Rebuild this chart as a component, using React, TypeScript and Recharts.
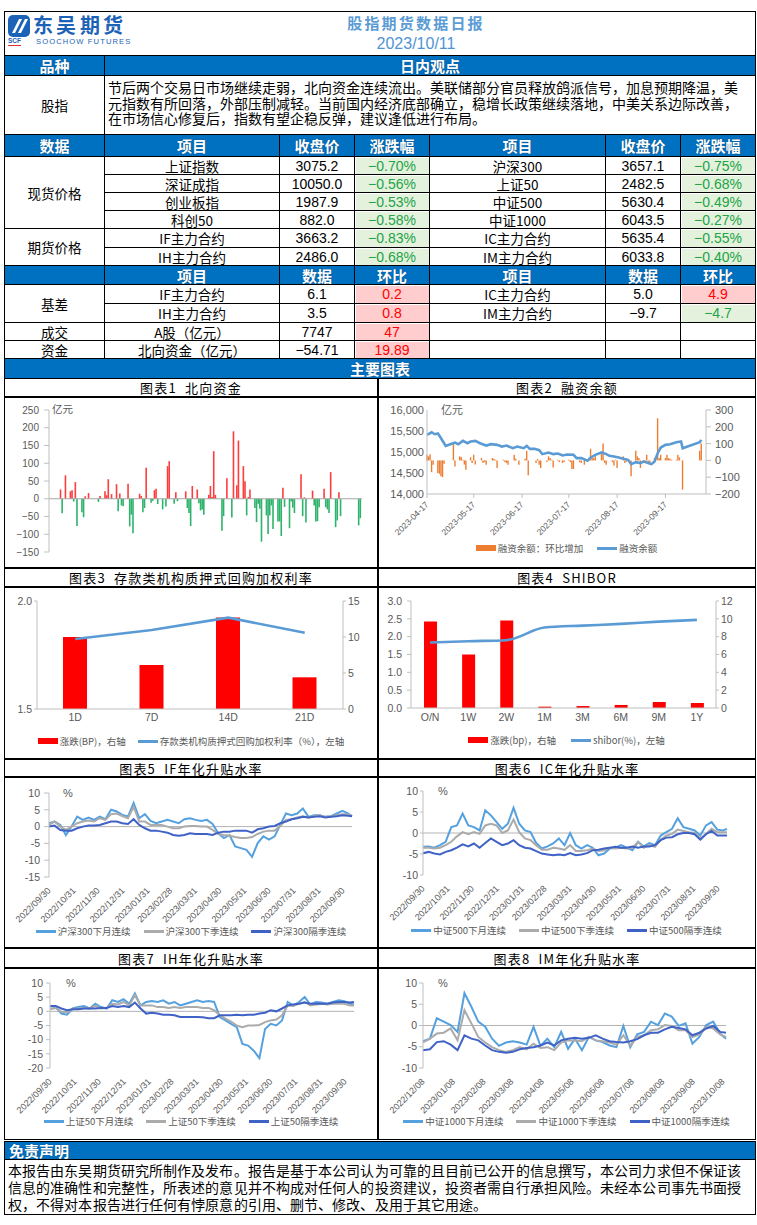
import React from "react";
import { ComposedChart, Line, Bar, Cell, XAxis, YAxis, ReferenceLine, Legend } from "recharts";

// fonts & colours
const CN = '"Noto Sans CJK SC", "Noto Sans", sans-serif';
const CN_TIGHT = '"CJK Tight", "Noto Sans CJK SC", sans-serif';
const NUM = '"Liberation Sans Narrow", "Liberation Sans", sans-serif';
const AX = '"Liberation Sans", "Noto Sans CJK SC", sans-serif';
const HEAD_BLUE = "#0070C0";
const AX_TEXT = "#595959";
const AX_LINE = "#BFBFBF";
const C_LIGHT = "#55A0DE";
const C_GRAY = "#ABABAB";
const C_DARK = "#3F62C6";

// same CJK face with smaller ascent/descent so tightly set paragraphs don't collide
const fontCss = `
@font-face {
  font-family: "CJK Tight"; font-weight: 400;
  src: local("Noto Sans CJK SC"), local("NotoSansCJKsc-Regular"), local("Noto Sans CJK SC Regular");
  ascent-override: 94%; descent-override: 12%; line-gap-override: 0%;
}
@font-face {
  font-family: "CJK Tight"; font-weight: 700;
  src: local("Noto Sans CJK SC Bold"), local("NotoSansCJKsc-Bold");
  ascent-override: 94%; descent-override: 12%; line-gap-override: 0%;
}`;

// ---------- table data ----------
const viewText = [
  "节后两个交易日市场继续走弱，北向资金连续流出。美联储部分官员释放鸽派信号，加息预期降温，美",
  "元指数有所回落，外部压制减轻。当前国内经济底部确立，稳增长政策继续落地，中美关系边际改善，",
  "在市场信心修复后，指数有望企稳反弹，建议逢低进行布局。",
];
const head1 = ["数据", "项目", "收盘价", "涨跌幅", "项目", "收盘价", "涨跌幅"];
const head2 = ["", "项目", "数据", "环比", "项目", "数据", "环比"];
const spotLeft = [
  ["上证指数", "3075.2", "-0.70%"],
  ["深证成指", "10050.0", "-0.56%"],
  ["创业板指", "1987.9", "-0.53%"],
  ["科创50", "882.0", "-0.58%"],
];
const spotRight = [
  ["沪深300", "3657.1", "-0.75%"],
  ["上证50", "2482.5", "-0.68%"],
  ["中证500", "5630.4", "-0.49%"],
  ["中证1000", "6043.5", "-0.27%"],
];
const futLeft = [
  ["IF主力合约", "3663.2", "-0.83%"],
  ["IH主力合约", "2486.0", "-0.68%"],
];
const futRight = [
  ["IC主力合约", "5635.4", "-0.55%"],
  ["IM主力合约", "6033.8", "-0.40%"],
];
const basisLeft = [
  ["IF主力合约", "6.1", "0.2"],
  ["IH主力合约", "3.5", "0.8"],
];
const basisRight = [
  ["IC主力合约", "5.0", "4.9"],
  ["IM主力合约", "-9.7", "-4.7"],
];
const turnoverRow = ["A股（亿元）", "7747", "47"];
const northRow = ["北向资金（亿元）", "-54.71", "19.89"];

// ---------- chart 1: northbound flow ----------
const FLOW_START = "2023-04-04";
const flowTicks = ["2023-04-04", "2023-05-04", "2023-06-04", "2023-07-04", "2023-08-04", "2023-09-04", "2023-10-04"];
const flowDates = [
  "2023-04-11","2023-04-12","2023-04-14","2023-04-17","2023-04-18","2023-04-19","2023-04-20","2023-04-21","2023-04-24","2023-04-25","2023-04-26","2023-04-28",
  "2023-05-04","2023-05-05","2023-05-08","2023-05-09","2023-05-10","2023-05-12","2023-05-15","2023-05-16","2023-05-17","2023-05-18","2023-05-19","2023-05-22","2023-05-23","2023-05-24","2023-05-25","2023-05-29","2023-05-30","2023-05-31",
  "2023-06-01","2023-06-02","2023-06-05","2023-06-06","2023-06-07","2023-06-08","2023-06-09","2023-06-12","2023-06-14","2023-06-15","2023-06-16","2023-06-19","2023-06-20","2023-06-21","2023-06-26","2023-06-27","2023-06-28","2023-06-29","2023-06-30",
  "2023-07-03","2023-07-04","2023-07-05","2023-07-06","2023-07-07","2023-07-10","2023-07-11","2023-07-12","2023-07-13","2023-07-14","2023-07-18","2023-07-19","2023-07-21","2023-07-24","2023-07-25","2023-07-27","2023-07-28","2023-07-31",
  "2023-08-01","2023-08-02","2023-08-03","2023-08-04","2023-08-07","2023-08-08","2023-08-09","2023-08-10","2023-08-11","2023-08-14","2023-08-15","2023-08-16","2023-08-17","2023-08-18","2023-08-21","2023-08-22","2023-08-23","2023-08-24","2023-08-25","2023-08-28","2023-08-29","2023-08-30","2023-08-31",
  "2023-09-04","2023-09-05","2023-09-06","2023-09-07","2023-09-11","2023-09-12","2023-09-13","2023-09-14","2023-09-15","2023-09-18","2023-09-19","2023-09-20","2023-09-21","2023-09-22","2023-09-25","2023-09-26","2023-09-27","2023-09-28",
  "2023-10-09","2023-10-10",
];
const flowValues = [
  26, -41, 66, 21, 24, -8, 47, -77, -38, -52, 7, 16,
  -9, 8, 21, 10, 55, 13, 41, -35, 15, -19, -21, 42, -78, -45, -97, 14, 8, -38,
  -26, 87, -11, -6, 24, 28, -15, -30, -22, 92, 106, -14, 18, -7, 21, -26, -40, -77, 36,
  26, -13, -33, -30, -45, 11, 36, 5, 134, 11, -90, -49, 58, -53, 190, 38, 164, 92,
  49, -47, 5, 26, -26, -66, -14, -28, -121, -47, -99, -47, -19, -85, -64, -64, -105, 31, -23, -83, -8, -25, -40,
  69, -49, 4, -67, 23, -19, -64, -63, -24, 28, -24, -30, -40, 75, -80, -61, 18, -49,
  -75, -54.71,
];

// ---------- chart 2: margin balance (days since 2023-04-17) ----------
const MARGIN_START = "2023-04-17";
const marginTicks = ["2023-04-17", "2023-05-17", "2023-06-17", "2023-07-17", "2023-08-17", "2023-09-17"];
const balanceDays = [0,3,5,7,9,12,15,18,20,23,26,28,31,34,38,41,45,48,51,55,58,62,64,66,69,72,74,78,81,84,87,90,94,96,99,103,105,108,112,115,117,120,123,126,129,131,134,137,139,141,144,146,148,150,153,156,160,163,164,175,176];
const balanceValues = [15407,15470,15423,15439,15328,15146,15186,15225,15186,15265,15209,15249,15265,15209,15154,15186,15170,15130,15154,15091,15130,15091,15146,15075,15075,15043,14949,14988,14949,14964,14917,14941,14933,14854,14854,14791,14870,14933,14988,14949,14909,14893,14870,14838,14814,14711,14759,14735,14775,14751,14711,14775,14972,15107,15170,15186,15233,15249,15091,15233,15289];
const changeDays = [0,1,2,3,4,7,8,9,10,11,17,18,21,22,23,24,25,28,29,30,31,35,36,37,38,42,43,44,45,49,50,51,52,56,57,59,63,64,65,70,71,72,73,77,78,79,80,81,84,85,87,88,91,92,93,94,98,99,101,105,106,107,108,112,113,114,115,119,120,121,122,126,127,128,131,134,135,136,137,140,141,142,143,146,148,149,150,153,154,155,156,157,160,161,162,164,175,176];
const changeValues = [34,24,37,-70,-26,-75,-80,-95,-100,-20,103,-36,24,20,4,-25,-55,18,-15,34,-25,14,-15,-10,-26,14,10,4,-45,4,-10,-15,-26,34,10,-26,10,57,-89,-15,8,-26,-45,-10,24,14,4,-42,4,-10,-15,-10,4,-10,-51,-51,-10,-15,-26,69,14,14,24,37,100,-15,-26,-10,-30,4,-45,24,-15,-8,-95,57,24,14,-45,-10,34,-10,-26,14,251,14,34,14,34,14,10,4,4,34,18,-174,57,100];

// ---------- chart 3: repo ----------
const repoTerms = ["1D", "7D", "14D", "21D"];
const repoRate = [1.824, 1.866, 1.923, 1.853];
const repoChange = [10.0, 6.1, 12.7, 4.4];

// ---------- chart 4: shibor ----------
const shiborTerms = ["O/N", "1W", "2W", "1M", "3M", "6M", "9M", "1Y"];
const shiborRate = [1.836, 1.873, 1.901, 2.255, 2.31, 2.358, 2.423, 2.47];
const shiborChange = [9.7, 6.0, 9.8, 0.15, 0.22, 0.34, 0.67, 0.56];

// ---------- charts 5-7: weekly samples ----------
const seasonDates = [
  "2022-09-30","2022-10-07","2022-10-14","2022-10-21","2022-10-28","2022-11-04","2022-11-11","2022-11-18","2022-11-25","2022-12-02","2022-12-09","2022-12-16","2022-12-23","2022-12-30",
  "2023-01-06","2023-01-13","2023-01-20","2023-01-27","2023-02-03","2023-02-10","2023-02-17","2023-02-24","2023-03-03","2023-03-10","2023-03-17","2023-03-24","2023-03-31",
  "2023-04-07","2023-04-14","2023-04-21","2023-04-28","2023-05-05","2023-05-12","2023-05-19","2023-05-26","2023-06-02","2023-06-09","2023-06-16","2023-06-23","2023-06-30",
  "2023-07-07","2023-07-14","2023-07-21","2023-07-28","2023-08-04","2023-08-11","2023-08-18","2023-08-25","2023-09-01","2023-09-08","2023-09-15","2023-09-22","2023-09-29","2023-10-06","2023-10-11",
];
const monthEnds = ["2022/09/30","2022/10/31","2022/11/30","2022/12/31","2023/01/31","2023/02/28","2023/03/31","2023/04/30","2023/05/31","2023/06/30","2023/07/31","2023/08/31","2023/09/30"];

const ifNextMonth = [1,1.5,0.5,-2.5,0,3,2,2.7,2,3,2.2,5,4.5,3.5,3,7,2.5,3.7,1.7,1,1.5,2,1.5,1,2.2,2.5,2,1.7,2,0.8,-2,-3.4,-2.5,-5.9,-6.4,-6.9,-9,-4.9,-2.9,-3.9,-2.9,0.5,3.9,3.4,3.9,5.4,2.9,3.4,3.4,2.9,3.1,3.9,4.7,3.9,3.1];
const ifNextQuarter = [0.5,1.5,0,-1,0,1,1.5,1.8,1.5,2.5,2,3.7,3.9,3.1,2.5,5.9,1.5,1.5,0.5,0.5,0.5,0,-0.5,-0.5,0,0.2,0.2,0,0,-1,-2.2,-2.5,-2.7,-3.1,-3.4,-3.4,-3.1,-2.2,-1.5,-1.2,-1.2,0.2,2,2.2,2.7,3.1,2.7,3.1,3.4,2.9,3.1,3.4,3.7,3.6,3.2];
const ifFarQuarter = [0,0.3,-1,-1.2,-1.2,-0.5,0,0.3,0.3,0.5,1,1.5,1.5,1,0.8,2.2,0.5,-0.5,-1.2,-1.2,-1.5,-1.8,-2.5,-2.7,-2.5,-2,-2.2,-2.2,-2.2,-2.5,-1.8,-1.5,-1.5,-1.2,-1.2,-1.2,-1.8,-0.8,-0.5,0,0.2,1,1.5,2.2,2.5,2.9,2.7,2.9,3.1,2.7,2.9,3.1,3.4,3.2,3.1];

const icNextMonth = [-3.3,-3.2,-3.5,-2.9,-2.1,1.4,1.8,4.6,1.8,1.4,0.6,5.4,4.2,2.6,1,2.2,6,2.2,0.6,0.2,-2.4,-3.7,-3.2,-2.5,-1.3,-2.9,0,-2.9,-3.7,-2.9,-3.5,-5.3,-4.9,-3.7,-3.5,-2.9,-3.5,-4.1,-2.1,-3.2,-2.4,-2.9,-0.6,0.2,1,3.5,1.4,1,0.6,-0.6,1.8,2.6,0.8,0.6,1];
const icNextQuarter = [-3.5,-3.5,-3.7,-3.5,-2.9,-2.1,-0.8,0.2,-0.3,0.2,-0.2,1.8,2.2,1.8,0,0.6,3.2,0.2,-1.3,-1.7,-2.9,-4,-4,-3.5,-3.7,-4,-2.9,-4.3,-4.3,-4.1,-3.7,-4.3,-4.1,-3.5,-3.7,-3.5,-3.7,-3.5,-2.1,-3.5,-2.9,-3.3,-1.6,-0.6,-0.2,0.8,0.5,0.2,0,-1.3,-0.2,1,0.2,0.2,0.2];
const icFarQuarter = [-4.8,-4.5,-4.9,-5.1,-4.5,-4.1,-3.5,-2.7,-3.2,-2.5,-3.5,-2.4,-1.3,-2.1,-2.9,-2.5,-1.7,-2.9,-3.5,-3.7,-4.3,-4.9,-5.1,-5.3,-5.1,-5.3,-4.8,-5.3,-5.1,-4.8,-4.1,-4,-3.7,-3.5,-3.3,-3.5,-3.5,-3.2,-3.5,-3.2,-3.2,-2.9,-1.7,-1.1,-1,-0.3,0,0,-0.3,-1.6,-0.3,0.5,-0.6,-0.6,-0.6];

const ihNextMonth = [1.8,1.5,-0.8,-1.2,1,1.5,1.9,1,2.7,1.5,1,3.9,3.3,4.3,2.7,6.3,2.1,3.3,3.6,3.3,3.9,2.7,3.3,2.1,2.7,3.3,3.9,3.3,3.6,3.3,-2,-3.2,-4.4,-5.6,-11.5,-12.1,-13.9,-16.5,-6.2,-4.4,-5,-3.2,3.3,2.1,3.3,5.1,2.4,3.3,3.1,2.7,3.3,3.9,3.6,2.7,2.4];
const ihNextQuarter = [0.7,1.2,-0.2,-0.2,0.7,1,1.2,1,1.9,1,1.2,2.7,2.4,3.3,2.1,5.7,2.1,2.1,2.1,1.5,1.5,1.2,1.5,1.2,1.5,1.5,1.5,1.2,1.2,0.4,-1.4,-2.6,-3.6,-5,-5.6,-5,-5,-4.8,-3.8,-3.2,-2.9,-1.4,2.1,1.9,2.7,3.3,2.1,2.4,2.7,2.4,2.7,2.7,2.7,2.1,2.1];
const ihFarQuarter = [1.9,1.9,1,0.4,0.7,0.7,1,1,1,1.2,1.2,1.9,1.5,1.9,1.5,3.1,1,-0.8,-0.5,-0.8,-1.2,-1.2,-1.4,-2,-2,-2,-2,-2.1,-2.4,-2.4,-1.4,-1.4,-1.4,-1.2,-1.4,-1.2,-1.2,-0.8,-0.5,0.4,0,1,2.1,2.4,2.7,3.1,2.7,2.7,2.7,2.7,3.1,3.3,3.3,3.1,3.3];

// ---------- chart 8 ----------
const imDates = [
  "2022-12-08","2022-12-15","2022-12-22","2022-12-29","2023-01-05","2023-01-12","2023-01-19","2023-01-26","2023-02-02","2023-02-09","2023-02-16","2023-02-23",
  "2023-03-02","2023-03-09","2023-03-16","2023-03-23","2023-03-30","2023-04-06","2023-04-13","2023-04-20","2023-04-27","2023-05-04","2023-05-11","2023-05-18","2023-05-25",
  "2023-06-01","2023-06-08","2023-06-15","2023-06-22","2023-06-29","2023-07-06","2023-07-13","2023-07-20","2023-07-27","2023-08-03","2023-08-10","2023-08-17","2023-08-24","2023-08-31",
  "2023-09-07","2023-09-14","2023-09-21","2023-09-28","2023-10-05","2023-10-11",
];
const imTickDates = ["2022/12/08","2023/01/08","2023/02/08","2023/03/08","2023/04/08","2023/05/08","2023/06/08","2023/07/08","2023/08/08","2023/09/08","2023/10/08"];
const imNextMonth = [-3.7,-3.1,1.7,0.9,0.1,-1.5,7.6,4.4,0.9,-0.3,-3.1,-4.8,-4,-3.7,-4,-4.5,-0.3,-4.8,-3.1,-5.1,-1.5,-5.5,-3.1,-5.8,-2.7,-3.5,-3.9,-4.7,-5.1,-0.1,-5.1,-2.1,-1.5,0.9,0.1,2.8,2.1,-0.1,0.5,-4.3,-2.7,0.1,0.9,-1.9,-3.1];
const imNextQuarter = [-4,-3.1,-1.9,-1.7,-0.7,-3.5,3.6,0.5,-2.7,-4,-5.1,-5.8,-6.2,-5.8,-5.1,-5.6,-4.3,-5.3,-5.1,-5.8,-4,-3.5,-3.5,-3.7,-2.7,-3.5,-3.7,-4,-4.5,-2.3,-4.7,-2.7,-2.3,-1.1,-0.9,0.1,-0.1,-1.1,-1.1,-2.7,-2.1,-0.3,-0.7,-2.1,-2.7];
const imFarQuarter = [-5.8,-5.6,-3.9,-3.7,-4.5,-5.8,-2.3,-3.1,-3.5,-4.7,-5.8,-6.2,-6.4,-6.2,-5.6,-5.3,-5.1,-4.7,-4,-4.7,-3.5,-3.1,-2.9,-3.1,-2.9,-2.3,-3.1,-3.7,-3.9,-4,-3.7,-3.2,-2.3,-1.7,-1.7,-0.9,-0.3,-0.6,-0.9,-2.3,-1.7,-0.7,-0.1,-1.5,-1.7];

const disclaimer = [
  "本报告由东吴期货研究所制作及发布。报告是基于本公司认为可靠的且目前已公开的信息撰写，本公司力求但不保证该",
  "信息的准确性和完整性，所表述的意见并不构成对任何人的投资建议，投资者需自行承担风险。未经本公司事先书面授",
  "权，不得对本报告进行任何有悖原意的引用、删节、修改、及用于其它用途。",
];

// ---------- helpers ----------
const dayNo = (s: string) => {
  const [y, m, d] = s.split(/[-/]/).map(Number);
  return Date.UTC(y, m - 1, d) / 86400000;
};
const uminus = (v: number) => (v < 0 ? `\u2212${Math.abs(v)}` : `${v}`);
const showNum = (s: string) => s.replace("-", "\u2212");

function Box({ x, y, w, h, style, children }: any) {
  return (
    <div
      style={{
        position: "absolute", left: x, top: y, width: w, height: h, boxSizing: "border-box",
        border: "1px solid #000", background: "#fff", display: "flex", alignItems: "center",
        justifyContent: "center", whiteSpace: "nowrap", ...style,
      }}
    >
      {children}
    </div>
  );
}

const headText: React.CSSProperties = {
  background: HEAD_BLUE, color: "#fff", fontWeight: 700, fontSize: 15,
  textShadow: "0 0 1px #0b3b66",
};

type LegendItem = { kind: "bar" | "line"; color: string; label: string };
function LegendRow({ items, gap }: { items: LegendItem[]; gap: number }) {
  return (
    <div style={{ display: "flex", justifyContent: "center", alignItems: "center", gap, fontSize: 9.5, color: AX_TEXT, fontFamily: CN, whiteSpace: "nowrap", lineHeight: "14px" }}>
      {items.map((it) => (
        <span key={it.label} style={{ display: "flex", alignItems: "center" }}>
          <span style={{ display: "inline-block", width: 20, height: it.kind === "bar" ? 6 : 3, background: it.color, marginRight: 2 }} />
          {it.label}
        </span>
      ))}
    </div>
  );
}

const slantTick = (labels: Record<number, string>, fs: number, off: number) => (p: any) => {
  const ty = p.y + off;
  return (
    <text x={p.x} y={ty} transform={`rotate(-45 ${p.x} ${ty})`} textAnchor="end" dy="0.35em" fontSize={fs} fill={AX_TEXT} fontFamily={AX}>
      {labels[p.payload.value] ?? ""}
    </text>
  );
};

// ---------- header + table ----------
const colX = [4, 104, 279, 354, 429, 605, 680, 755];
const rowY = [134, 156, 174, 192, 210, 228, 247, 265, 284, 303, 322, 340, 358];

function QuoteTable() {
  const out: React.ReactNode[] = [];
  const put = (c: number, j0: number, j1: number, content: React.ReactNode, style: React.CSSProperties = {}, fill?: string) => {
    const x = colX[c];
    const y = rowY[j0];
    out.push(
      <Box key={`${c}-${j0}`} x={x} y={y} w={colX[c + 1] - x + 1} h={rowY[j1] - y + 1} style={style}>
        {fill && <div style={{ position: "absolute", left: 1, top: 1, right: 0, bottom: 0, background: fill }} />}
        <span style={{ position: "relative" }}>{content}</span>
      </Box>
    );
  };
  const item: React.CSSProperties = { fontSize: 13.5, fontFamily: CN };
  const num: React.CSSProperties = { fontSize: 14, fontFamily: NUM };
  const change = (c: number, j: number, s: string) => {
    const neg = s.startsWith("-");
    put(c, j, j + 1, showNum(s), { ...num, color: neg ? "#22A447" : "#FF0000" }, neg ? "#E4F1DC" : "#FFCDCD");
  };
  const row = (j: number, l: string[] | null, r: string[] | null) => {
    if (l) {
      put(1, j, j + 1, l[0], item);
      put(2, j, j + 1, showNum(l[1]), num);
      change(3, j, l[2]);
    }
    if (r) {
      put(4, j, j + 1, r[0], item);
      put(5, j, j + 1, showNum(r[1]), num);
      change(6, j, r[2]);
    } else {
      put(4, j, j + 1, "");
      put(5, j, j + 1, "");
      put(6, j, j + 1, "");
    }
  };
  head1.forEach((t, c) => put(c, 0, 1, t, headText));
  put(0, 1, 5, "现货价格", item);
  spotLeft.forEach((l, k) => row(1 + k, l, spotRight[k]));
  put(0, 5, 7, "期货价格", item);
  futLeft.forEach((l, k) => row(5 + k, l, futRight[k]));
  head2.forEach((t, c) => put(c, 7, 8, t, headText));
  put(0, 8, 10, "基差", item);
  basisLeft.forEach((l, k) => row(8 + k, l, basisRight[k]));
  put(0, 10, 11, "成交", item);
  row(10, turnoverRow, null);
  put(0, 11, 12, "资金", item);
  row(11, northRow, null);
  return <>{out}</>;
}

function Header() {
  return (
    <>
      <Box x={4} y={11} w={752} h={45} />
      <svg width={22} height={22} viewBox="0 0 22 22" style={{ position: "absolute", left: 8, top: 15 }}>
        <rect width={22} height={22} rx={5} fill="#1C63B7" />
        <path d="M4 18 L11 4 L14 4 L7 18 Z" fill="#fff" />
        <path d="M10 18 L17 4 L20 4 L13 18 Z" fill="#fff" />
      </svg>
      <div style={{ position: "absolute", left: 33, top: 13, fontFamily: CN_TIGHT, fontSize: 20, fontWeight: 700, color: "#1C63B7", letterSpacing: 3.4, lineHeight: "23px" }}>东吴期货</div>
      <div style={{ position: "absolute", left: 8, top: 37, fontSize: 6.5, fontWeight: 700, color: "#1C63B7", fontFamily: AX, lineHeight: "8px", borderBottom: "1.5px solid #E0302A" }}>SCF</div>
      <div style={{ position: "absolute", left: 36, top: 37, fontSize: 7.6, color: "#1C63B7", fontFamily: AX, letterSpacing: 1.1, lineHeight: "9px" }}>SOOCHOW FUTURES</div>
      <div style={{ position: "absolute", left: 316, width: 200, top: 13, textAlign: "center", fontSize: 15, fontWeight: 700, color: "#5B9BD5", letterSpacing: 2.2, lineHeight: "20px" }}>股指期货数据日报</div>
      <div style={{ position: "absolute", left: 316, width: 200, top: 34, textAlign: "center", fontSize: 16, color: "#4F94D4", fontFamily: AX, lineHeight: "19px" }}>2023/10/11</div>
      <Box x={4} y={55} w={101} h={21} style={headText}>品种</Box>
      <Box x={104} y={55} w={652} h={21} style={headText}>日内观点</Box>
      <Box x={4} y={75} w={101} h={60} style={{ fontSize: 13.5 }}>股指</Box>
      <Box x={104} y={75} w={652} h={60} style={{ display: "block", fontFamily: CN_TIGHT, fontSize: 14, lineHeight: "15.5px", padding: "4px 0 0 3px" }}>
        {viewText.map((t) => <div key={t}>{t}</div>)}
      </Box>
    </>
  );
}

// ---------- chart 1 ----------
const FLOW_ZERO_Y = 12 + (142 * 250) / 400;
function FlowChart() {
  const base = dayNo(FLOW_START);
  const data = flowDates.map((s, i) => ({ d: dayNo(s) - base, v: flowValues[i] }));
  const tickDays = flowTicks.map((s) => dayNo(s) - base);
  const labels: Record<number, string> = {};
  tickDays.forEach((d, i) => (labels[d] = flowTicks[i]));
  const vertTick = (p: any) => (
    <text transform={`translate(${p.x},${FLOW_ZERO_Y + 4}) rotate(-90)`} textAnchor="end" dy="0.35em" fontSize={7.5} fill={AX_TEXT} fontFamily={AX}>
      {labels[p.payload.value] ?? ""}
    </text>
  );
  return (
    <div style={{ position: "absolute", left: 5, top: 398 }}>
      <ComposedChart width={372} height={169} data={data} margin={{ top: 12, right: 15, bottom: 15, left: 4 }}>
        <XAxis type="number" dataKey="d" domain={[0, 190]} ticks={tickDays} interval={0} height={0} axisLine={false} tickLine={false} tickSize={0} tickMargin={0} tick={vertTick} />
        <YAxis type="number" domain={[-150, 250]} ticks={[-150, -100, -50, 0, 50, 100, 150, 200, 250]} interval={0} width={40} tickSize={5} tickMargin={5} stroke={AX_LINE} tick={{ fontSize: 10, fill: AX_TEXT, fontFamily: AX }} tickFormatter={uminus} />
        <ReferenceLine y={0} stroke="#A6A6A6" />
        <Bar dataKey="v" barSize={1.6} isAnimationActive={false}>
          {data.map((p, i) => <Cell key={i} fill={p.v >= 0 ? "#FF3B3B" : "#2DB36B"} />)}
        </Bar>
      </ComposedChart>
      <span style={{ position: "absolute", left: 47, top: 3, fontSize: 10.5, color: AX_TEXT }}>亿元</span>
    </div>
  );
}

// ---------- chart 2 ----------
function MarginChart() {
  const byDay = new Map<number, any>();
  balanceDays.forEach((d, i) => byDay.set(d, { d, bal: balanceValues[i] }));
  changeDays.forEach((d, i) => byDay.set(d, { ...(byDay.get(d) ?? { d }), chg: changeValues[i] }));
  const data = [...byDay.values()].sort((a, b) => a.d - b.d);
  const base = dayNo(MARGIN_START);
  const tickDays = marginTicks.map((s) => dayNo(s) - base);
  const labels: Record<number, string> = {};
  tickDays.forEach((d, i) => (labels[d] = marginTicks[i]));
  return (
    <div style={{ position: "absolute", left: 379, top: 398 }}>
      <ComposedChart width={375} height={169} data={data} margin={{ top: 12, right: 8, bottom: 33, left: 4 }}>
        <XAxis type="number" dataKey="d" domain={[0, 179]} ticks={tickDays} interval={0} height={40} stroke={AX_LINE} tickSize={4} tickMargin={0} tick={slantTick(labels, 8.5, 5)} />
        <YAxis yAxisId="l" type="number" domain={[14000, 16000]} ticks={[14000, 14500, 15000, 15500, 16000]} interval={0} width={44} tickSize={0} tickMargin={3} stroke={AX_LINE} tick={{ fontSize: 11, fill: AX_TEXT, fontFamily: AX }} tickFormatter={(v: number) => v.toLocaleString("en-US")} />
        <YAxis yAxisId="r" orientation="right" type="number" domain={[-200, 300]} ticks={[-200, -100, 0, 100, 200, 300]} interval={0} width={40} tickSize={5} tickMargin={4} stroke={AX_LINE} tick={{ fontSize: 11, fill: AX_TEXT, fontFamily: AX }} tickFormatter={uminus} />
        <Bar yAxisId="r" dataKey="chg" fill="#ED7D31" barSize={1.4} isAnimationActive={false} />
        <Line yAxisId="l" dataKey="bal" type="linear" stroke="#5B9BD5" strokeWidth={2.6} dot={false} connectNulls isAnimationActive={false} />
        <Legend
          layout="horizontal" verticalAlign="middle" align="center"
          wrapperStyle={{ top: 143, left: 0, width: 375 }}
          content={() => <LegendRow gap={14} items={[{ kind: "bar", color: "#ED7D31", label: "融资余额：环比增加" }, { kind: "line", color: "#5B9BD5", label: "融资余额" }]} />}
        />
      </ComposedChart>
      <span style={{ position: "absolute", left: 62, top: 3, fontSize: 11, color: AX_TEXT }}>亿元</span>
    </div>
  );
}

// ---------- charts 3 & 4 ----------
function RepoChart() {
  const data = repoTerms.map((t, i) => ({ t, rate: repoRate[i], chg: repoChange[i] }));
  return (
    <div style={{ position: "absolute", left: 5, top: 588 }}>
      <ComposedChart width={372} height={170} data={data} margin={{ top: 13, right: 6, bottom: 29, left: 4 }}>
        <XAxis dataKey="t" height={20} stroke={AX_LINE} tickLine={false} tickSize={3} tickMargin={2} tick={{ fontSize: 10.5, fill: AX_TEXT, fontFamily: AX }} />
        <YAxis yAxisId="l" type="number" domain={[1.5, 2.0]} ticks={[1.5, 2.0]} interval={0} width={28} tickSize={3} tickMargin={2} stroke={AX_LINE} tick={{ fontSize: 10.5, fill: AX_TEXT, fontFamily: AX }} tickFormatter={(v: number) => v.toFixed(1)} />
        <YAxis yAxisId="r" orientation="right" type="number" domain={[0, 15]} ticks={[0, 5, 10, 15]} interval={0} width={28} tickSize={3} tickMargin={2} stroke={AX_LINE} tick={{ fontSize: 10.5, fill: AX_TEXT, fontFamily: AX }} />
        <Bar yAxisId="r" dataKey="chg" fill="#FF0000" barSize={24} isAnimationActive={false} />
        <Line yAxisId="l" dataKey="rate" type="linear" stroke="#5B9BD5" strokeWidth={2.6} dot={false} isAnimationActive={false} />
        <Legend
          layout="horizontal" verticalAlign="middle" align="center"
          wrapperStyle={{ top: 146, left: 0, width: 372 }}
          content={() => <LegendRow gap={12} items={[{ kind: "bar", color: "#FF0000", label: "涨跌(BP)，右轴" }, { kind: "line", color: "#5B9BD5", label: "存款类机构质押式回购加权利率（%），左轴" }]} />}
        />
      </ComposedChart>
    </div>
  );
}

function ShiborChart() {
  const data = shiborTerms.map((t, i) => ({ t, rate: shiborRate[i], chg: shiborChange[i] }));
  return (
    <div style={{ position: "absolute", left: 379, top: 588 }}>
      <ComposedChart width={375} height={170} data={data} margin={{ top: 13, right: 8, bottom: 30, left: 4 }}>
        <XAxis dataKey="t" height={20} stroke={AX_LINE} tickLine={false} tickSize={4} tickMargin={2} tick={{ fontSize: 10.5, fill: AX_TEXT, fontFamily: AX }} />
        <YAxis yAxisId="l" type="number" domain={[0, 3]} ticks={[0, 0.5, 1, 1.5, 2, 2.5, 3]} interval={0} width={28} tickSize={4} tickMargin={5} stroke={AX_LINE} tick={{ fontSize: 10.5, fill: AX_TEXT, fontFamily: AX }} tickFormatter={(v: number) => v.toFixed(1)} />
        <YAxis yAxisId="r" orientation="right" type="number" domain={[0, 12]} ticks={[0, 2, 4, 6, 8, 10, 12]} interval={0} width={30} tickSize={3} tickMargin={2} stroke={AX_LINE} tick={{ fontSize: 10.5, fill: AX_TEXT, fontFamily: AX }} />
        <Bar yAxisId="r" dataKey="chg" fill="#FF0000" barSize={13} isAnimationActive={false} />
        <Line yAxisId="l" dataKey="rate" type="monotone" stroke="#5B9BD5" strokeWidth={2.6} dot={false} isAnimationActive={false} />
        <Legend
          layout="horizontal" verticalAlign="middle" align="center"
          wrapperStyle={{ top: 145, left: 0, width: 375 }}
          content={() => <LegendRow gap={15} items={[{ kind: "bar", color: "#FF0000", label: "涨跌(bp)，右轴" }, { kind: "line", color: "#5B9BD5", label: "shibor(%)，左轴" }]} />}
        />
      </ComposedChart>
    </div>
  );
}

// ---------- charts 5-8 ----------
type SpreadProps = {
  left: number; top: number; width: number; height: number;
  margin: { top: number; right: number; bottom: number; left: number };
  dates: string[]; series: number[][]; names: string[];
  yDomain: [number, number]; yTicks: number[]; tickDates: string[];
  tickSize: number; tickMargin: number; legendTop: number; pct: [number, number];
};
function SpreadChart(p: SpreadProps) {
  const base = dayNo(p.dates[0]);
  const data = p.dates.map((s, i) => ({ d: dayNo(s) - base, a: p.series[0][i], b: p.series[1][i], c: p.series[2][i] }));
  const tickDays = p.tickDates.map((s) => dayNo(s) - base);
  const labels: Record<number, string> = {};
  tickDays.forEach((d, i) => (labels[d] = p.tickDates[i]));
  const last = data[data.length - 1].d;
  const colors = [C_LIGHT, C_GRAY, C_DARK];
  return (
    <div style={{ position: "absolute", left: p.left, top: p.top }}>
      <ComposedChart width={p.width} height={p.height} data={data} margin={p.margin}>
        <XAxis type="number" dataKey="d" domain={[0, last]} ticks={tickDays} interval={0} height={50} axisLine={false} tickLine={false} tickSize={0} tickMargin={0} tick={slantTick(labels, 9, 12)} />
        <YAxis type="number" domain={p.yDomain} ticks={p.yTicks} interval={0} width={40} tickSize={p.tickSize} tickMargin={p.tickMargin} stroke={AX_LINE} tick={{ fontSize: 10.5, fill: AX_TEXT, fontFamily: AX }} />
        <ReferenceLine y={0} stroke="#B4B4B4" />
        {["a", "b", "c"].map((k, i) => (
          <Line key={k} dataKey={k} type="linear" stroke={colors[i]} strokeWidth={2} dot={false} isAnimationActive={false} />
        ))}
        <Legend
          layout="horizontal" verticalAlign="middle" align="center"
          wrapperStyle={{ top: p.legendTop, left: 0, width: p.width }}
          content={() => <LegendRow gap={13} items={p.names.map((n, i) => ({ kind: "line" as const, color: colors[i], label: n }))} />}
        />
      </ComposedChart>
      <span style={{ position: "absolute", left: p.pct[0], top: p.pct[1], fontSize: 11, color: AX_TEXT, fontFamily: AX }}>%</span>
    </div>
  );
}

// ---------- chart grid ----------
const chartTitles = [
  ["图表1  北向资金", "图表2  融资余额"],
  ["图表3  存款类机构质押式回购加权利率", "图表4  SHIBOR"],
  ["图表5  IF年化升贴水率", "图表6  IC年化升贴水率"],
  ["图表7  IH年化升贴水率", "图表8  IM年化升贴水率"],
];
const gridRows = [
  [378, 397, 568],
  [568, 587, 759],
  [759, 777, 948],
  [948, 968, 1140],
];

function ChartGrid() {
  const titleStyle: React.CSSProperties = { fontSize: 13, letterSpacing: 1.2, whiteSpace: "pre" };
  return (
    <>
      <Box x={4} y={358} w={752} h={21} style={headText}>主要图表</Box>
      {gridRows.map(([t, b, e], r) => (
        <React.Fragment key={r}>
          <Box x={4} y={t} w={374} h={b - t} style={titleStyle}>{chartTitles[r][0]}</Box>
          <Box x={378} y={t} w={378} h={b - t} style={titleStyle}>{chartTitles[r][1]}</Box>
          <Box x={4} y={b} w={374} h={e - b} />
          <Box x={378} y={b} w={378} h={e - b} />
        </React.Fragment>
      ))}
      <FlowChart />
      <MarginChart />
      <RepoChart />
      <ShiborChart />
      <SpreadChart
        left={5} top={778} width={372} height={169} margin={{ top: 15, right: 25, bottom: 20, left: 4 }}
        dates={seasonDates} series={[ifNextMonth, ifNextQuarter, ifFarQuarter]}
        names={["沪深300下月连续", "沪深300下季连续", "沪深300隔季连续"]}
        yDomain={[-15, 10]} yTicks={[-15, -10, -5, 0, 5, 10]} tickDates={monthEnds}
        tickSize={5} tickMargin={4} legendTop={146} pct={[58, 9]}
      />
      <SpreadChart
        left={379} top={778} width={375} height={169} margin={{ top: 13, right: 27, bottom: 22, left: 4 }}
        dates={seasonDates} series={[icNextMonth, icNextQuarter, icFarQuarter]}
        names={["中证500下月连续", "中证500下季连续", "中证500隔季连续"]}
        yDomain={[-10, 10]} yTicks={[-10, -5, 0, 5, 10]} tickDates={monthEnds}
        tickSize={3} tickMargin={2} legendTop={145} pct={[59, 7]}
      />
      <SpreadChart
        left={5} top={969} width={372} height={170} margin={{ top: 14, right: 23, bottom: 21, left: 5 }}
        dates={seasonDates} series={[ihNextMonth, ihNextQuarter, ihFarQuarter]}
        names={["上证50下月连续", "上证50下季连续", "上证50隔季连续"]}
        yDomain={[-20, 10]} yTicks={[-20, -15, -10, -5, 0, 5, 10]} tickDates={monthEnds}
        tickSize={4} tickMargin={3} legendTop={145} pct={[61, 8]}
      />
      <SpreadChart
        left={379} top={969} width={375} height={170} margin={{ top: 14, right: 28, bottom: 21, left: 4 }}
        dates={imDates} series={[imNextMonth, imNextQuarter, imFarQuarter]}
        names={["中证1000下月连续", "中证1000下季连续", "中证1000隔季连续"]}
        yDomain={[-10, 10]} yTicks={[-10, -5, 0, 5, 10]} tickDates={imTickDates}
        tickSize={4} tickMargin={2} legendTop={145} pct={[59, 8]}
      />
    </>
  );
}

function Disclaimer() {
  return (
    <>
      <Box x={4} y={1141} w={752} h={19} style={{ ...headText, justifyContent: "flex-start", paddingLeft: 4 }}>免责声明</Box>
      <Box x={4} y={1159} w={752} h={56} style={{ display: "block", fontFamily: CN_TIGHT, fontSize: 14, letterSpacing: 0.1, lineHeight: "16.8px", padding: "3px 0 0 3px" }}>
        {disclaimer.map((t) => <div key={t}>{t}</div>)}
      </Box>
    </>
  );
}

export default function App() {
  return (
    <div style={{ position: "absolute", left: 0, top: 0, width: 757, height: 1225, background: "#fff", fontFamily: CN, color: "#000", overflow: "hidden" }}>
      <style>{fontCss}</style>
      <Header />
      <QuoteTable />
      <ChartGrid />
      <Disclaimer />
    </div>
  );
}
